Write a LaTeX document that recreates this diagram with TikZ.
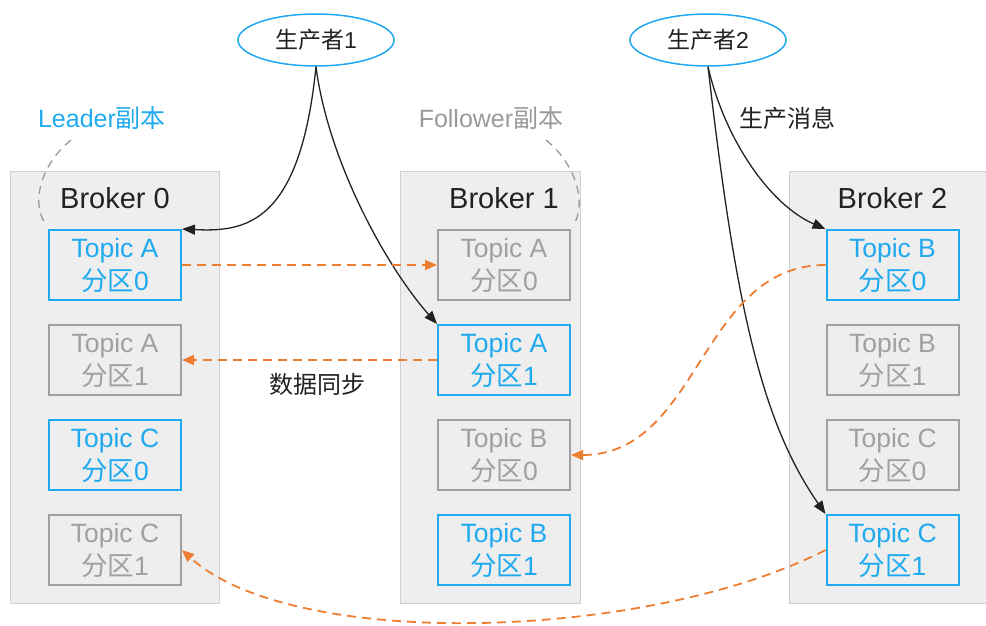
\documentclass[tikz,border=0pt]{standalone}
\usepackage{fontspec}
\setmainfont{Liberation Sans}
\newfontfamily\cjk{Noto Sans CJK SC}
\usetikzlibrary{arrows.meta,shapes.geometric}
\definecolor{hwblue}{HTML}{1FAAF0}
\definecolor{hworange}{HTML}{ED7D31}
\definecolor{brokerfill}{HTML}{EEEEEE}
\definecolor{brokerline}{HTML}{D0D0D0}
\definecolor{tgray}{HTML}{A0A0A0}
\definecolor{ink}{HTML}{222222}
\definecolor{calloutgray}{HTML}{999999}
\begin{document}
\begin{tikzpicture}[x=1pt,y=-1pt,
 broker/.style={draw=brokerline, fill=brokerfill, line width=1pt, anchor=north west, inner sep=0pt, minimum height=432pt},
 lead/.style={draw=hwblue, line width=2pt, text=hwblue, minimum width=132pt, minimum height=70pt, inner sep=0pt, align=center, font=\fontsize{26.5}{33}\selectfont},
 foll/.style={lead, draw=tgray, text=tgray},
 prod/.style={ellipse, draw=hwblue, line width=1.5pt, minimum width=156pt, minimum height=52pt, inner sep=0pt, font=\fontsize{23}{27}\selectfont, text=ink},
 title/.style={font=\fontsize{29}{33}\selectfont, text=ink},
 note/.style={font=\fontsize{24}{28}\selectfont},
 push/.style={draw=ink, line width=1.3pt, -{Triangle[length=13pt,width=10pt]}},
 sync/.style={draw=hworange, line width=1.8pt, dash pattern=on 9pt off 6pt, -{Triangle[length=12pt,width=10pt]}},
 callout/.style={draw=calloutgray, line width=1.3pt, dash pattern=on 8pt off 6pt},
]
\useasboundingbox (0,0) rectangle (986,626);

% brokers
\node[broker, minimum width=209pt] (br0) at (10,171) {};
\node[broker, minimum width=180pt] (br1) at (400,171) {};
\node[broker, minimum width=200pt] (br2) at (789,171) {};
\node[title] (t0) at (115,198) {Broker 0};
\node[title] (t1) at (504,198) {Broker 1};
\node[title] (t2) at (892.5,198) {Broker 2};

% broker 0
\node[lead] (b0a0) at (115,265) {Topic A\\{\cjk 分区}0};
\node[foll] (b0a1) at (115,360) {Topic A\\{\cjk 分区}1};
\node[lead] (b0c0) at (115,455) {Topic C\\{\cjk 分区}0};
\node[foll] (b0c1) at (115,550) {Topic C\\{\cjk 分区}1};
% broker 1
\node[foll] (b1a0) at (504,265) {Topic A\\{\cjk 分区}0};
\node[lead] (b1a1) at (504,360) {Topic A\\{\cjk 分区}1};
\node[foll] (b1b0) at (504,455) {Topic B\\{\cjk 分区}0};
\node[lead] (b1b1) at (504,550) {Topic B\\{\cjk 分区}1};
% broker 2
\node[lead] (b2b0) at (892.5,265) {Topic B\\{\cjk 分区}0};
\node[foll] (b2b1) at (892.5,360) {Topic B\\{\cjk 分区}1};
\node[foll] (b2c0) at (892.5,455) {Topic C\\{\cjk 分区}0};
\node[lead] (b2c1) at (892.5,550) {Topic C\\{\cjk 分区}1};

% producers
\node[prod] (p1) at (316,40) {{\cjk 生产者}1};
\node[prod] (p2) at (708,40) {{\cjk 生产者}2};

% labels
\node[note, text=hwblue, font=\fontsize{25}{29}\selectfont] (lleader) at (102,118) {Leader{\cjk 副本}};
\node[note, text=calloutgray, font=\fontsize{25}{29}\selectfont] (lfollow) at (491,118) {Follower{\cjk 副本}};
\node[note, text=ink] (lprod) at (787,118) {\cjk 生产消息};
\node[note, text=ink] (lsync) at (317,384) {\cjk 数据同步};

% callout arcs
\coordinate (la) at (71,140);
\coordinate (lb) at (47,226);
\coordinate (fa) at (546,140);
\coordinate (fb) at (573,226);
\draw[callout] (la) .. controls (40,165) and (30,205) .. (lb);
\draw[callout] (fa) .. controls (577,165) and (587,205) .. (fb);

% produce arrows
\draw[push] (p1.south) .. controls (300,225) and (245,232) .. (b0a0.north east);
\draw[push] (p1.south) .. controls (328,160) and (385,265) .. (b1a1.north west);
\draw[push] (p2.south) .. controls (725,140) and (770,205) .. (b2b0.north west);
\draw[push] (p2.south) .. controls (735,300) and (760,420) .. (b2c1.north west);

% sync arrows
\draw[sync] (b0a0.east) -- (b1a0.west);
\draw[sync] (b1a1.west) -- (b0a1.east);
\draw[sync] (b2b0.west) .. controls (700,265) and (700,455) .. (b1b0.east);
\draw[sync] (b2c1.west) .. controls (650,640) and (294,652) .. (b0c1.east);
\end{tikzpicture}
\end{document}
